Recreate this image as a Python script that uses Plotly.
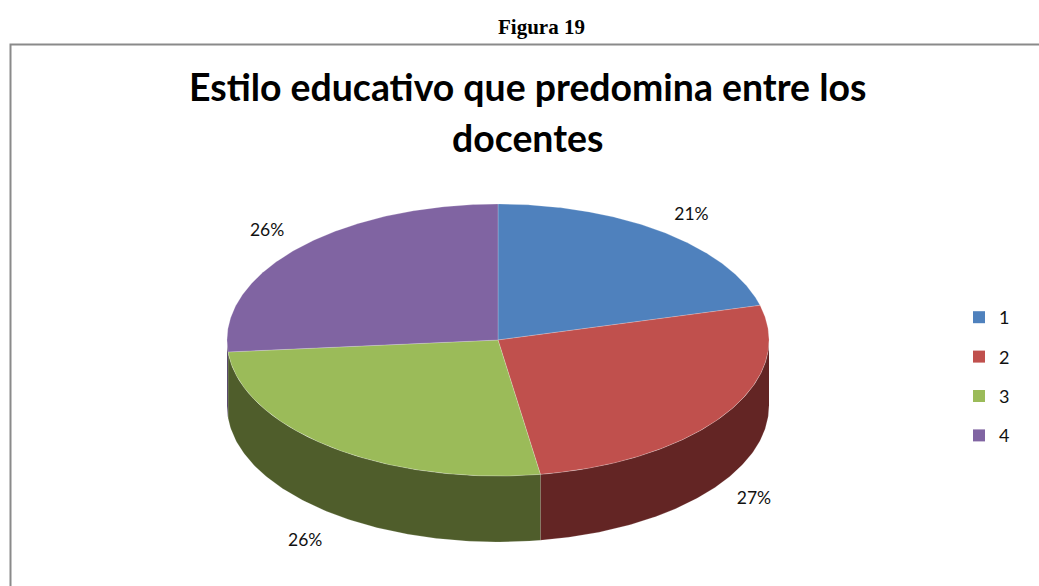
import numpy as np
import plotly.graph_objects as go

# Data
categories = ["1", "2", "3", "4"]
values = [20.9, 26.6, 26.1, 26.4]
title_lines = ["Estilo educativo que predomina entre los", "docentes"]
caption = "Figura 19"

# Styling
top_colors = ["#4F81BD", "#C0504D", "#9BBB59", "#8064A2"]
side_colors = ["#2F4D71", "#632524", "#4F5D2B", "#4C3B62"]
CX, CY, RX, RY, DEPTH = 498, 340, 271, 136, 66
label_nudge_x = [28, 29, -26, -31]
label_nudge_y = [-17, 85, 94, -17]

frac = np.array(values) / sum(values)
edges = np.concatenate([[0], np.cumsum(frac)]) * 2 * np.pi


def rim(t):
    return CX + RX * np.sin(t), CY - RY * np.cos(t)


fig = go.Figure()

# side walls (only the part of the rim that faces the viewer)
for i, c in enumerate(categories):
    a, b = max(edges[i], np.pi / 2), min(edges[i + 1], 3 * np.pi / 2)
    if b > a:
        t = np.linspace(a, b, 120)
        x, y = rim(t)
        fig.add_trace(go.Scatter(
            x=np.concatenate([x, x[::-1]]),
            y=np.concatenate([y, y[::-1] + DEPTH]),
            mode="lines", fill="toself", fillcolor=side_colors[i],
            line=dict(width=0.7, color="rgba(255,255,255,0.25)"),
            hoverinfo="skip", showlegend=False))

# top face
for i, c in enumerate(categories):
    t = np.linspace(edges[i], edges[i + 1], 200)
    x, y = rim(t)
    fig.add_trace(go.Scatter(
        x=np.concatenate([[CX], x, [CX]]),
        y=np.concatenate([[CY], y, [CY]]),
        mode="lines", fill="toself", fillcolor=top_colors[i],
        line=dict(width=0.7, color="rgba(255,255,255,0.3)"),
        hoverinfo="text", text=f"{c}: {values[i]:.0f}%", showlegend=False))

# percentage labels, placed outside the slice's mid-angle
for i in range(len(categories)):
    m = (edges[i] + edges[i + 1]) / 2
    x, y = rim(m)
    fig.add_trace(go.Scatter(
        x=[x + label_nudge_x[i]], y=[y + label_nudge_y[i]], mode="text",
        text=[f"{round(frac[i] * 100)}%"],
        textposition="middle center",
        textfont=dict(family="Lato", size=17.5, color="#111111"),
        hoverinfo="skip", showlegend=False))

# legend entries
for i, c in enumerate(categories):
    fig.add_trace(go.Scatter(
        x=[None], y=[None], mode="markers", name=c, legendgroup=c,
        marker=dict(symbol="square", size=12, color=top_colors[i])))

fig.add_shape(type="path", path="M 10.5 586 L 10.5 44.5 L 1039 44.5",
              line=dict(color="#8A8A8A", width=2))

fig.add_annotation(x=541, y=27, text=f"<b>{caption}</b>", showarrow=False,
                   font=dict(family="Liberation Serif", size=21, color="black"))
for line, ypos in zip(title_lines, [86, 137]):
    fig.add_annotation(x=527, y=ypos, text=f"<b>{line}</b>", showarrow=False,
                       font=dict(family="Lato", size=37.4, color="black"))

fig.update_layout(
    width=1039, height=586, margin=dict(l=0, r=0, t=0, b=0),
    paper_bgcolor="white", plot_bgcolor="white",
    xaxis=dict(range=[0, 1039], visible=False, fixedrange=True),
    yaxis=dict(range=[586, 0], visible=False, fixedrange=True),
    legend=dict(x=959 / 1039, y=1 - 299 / 586, xanchor="left", yanchor="top",
                tracegroupgap=13, font=dict(family="Lato", size=18, color="#111111"),
                bgcolor="rgba(0,0,0,0)"),
)

fig.write_html("out.html", config=dict(displayModeBar=False),
               post_script="document.body.style.margin='0';document.body.style.overflow='hidden';")
